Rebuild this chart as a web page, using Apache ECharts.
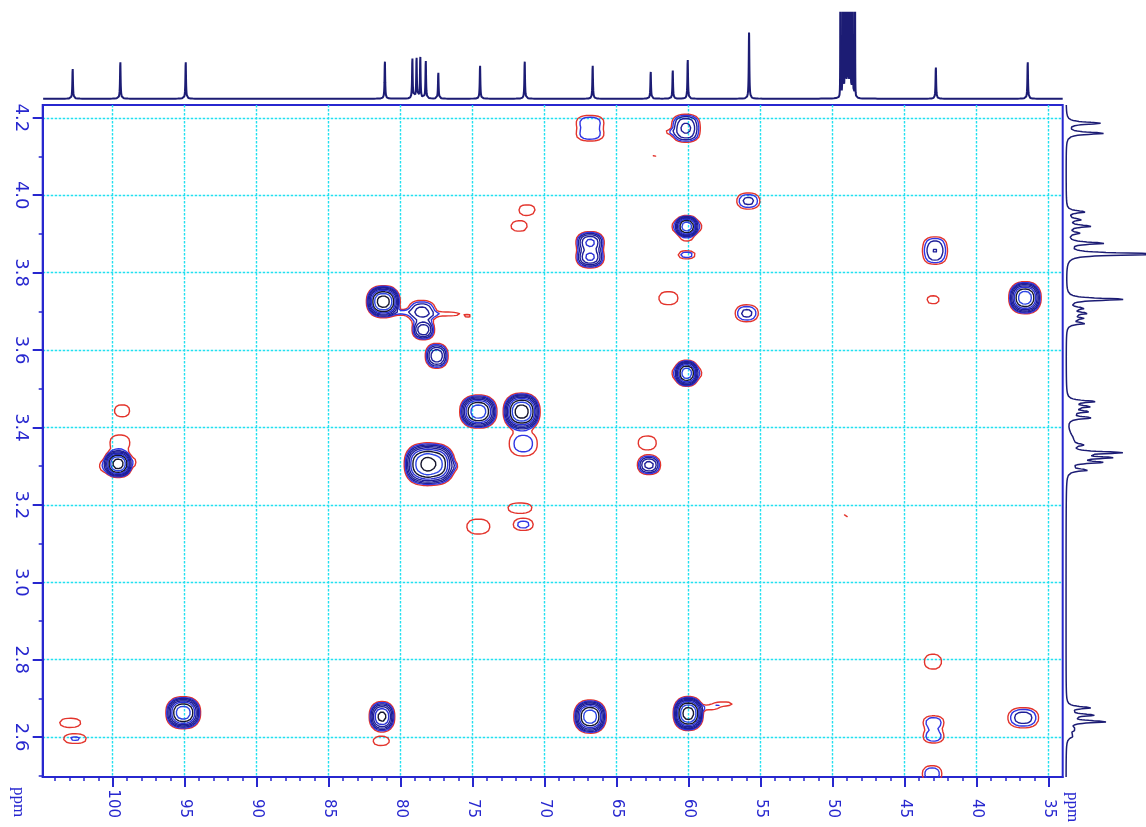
<!DOCTYPE html>
<html lang="en">
<head>
<meta charset="utf-8">
<title>HSQC</title>
<script src="https://cdn.jsdelivr.net/npm/echarts@6.0.0/dist/echarts.min.js"></script>
<style>
  html, body { margin: 0; padding: 0; background: #ffffff; }
  #chart { width: 1146px; height: 827px; }
</style>
</head>
<body>
<div id="chart"></div>
<script>
// ---------- axis extents and ticks (ppm) ----------
const carbonRange = [34.03, 104.86];
const protonRange = [2.497, 4.233];
const carbonTicks = [35, 40, 45, 50, 55, 60, 65, 70, 75, 80, 85, 90, 95, 100];
const protonTicks = [2.6, 2.8, 3.0, 3.2, 3.4, 3.6, 3.8, 4.0, 4.2];
const carbonMinorStep = 1;
const protonMinorStep = 0.1;

// ---------- 13C projection (top): shift / height in px ----------
const c13Shift  = [102.78, 99.47, 94.93, 81.10, 79.19, 78.90, 78.64, 78.26, 77.39, 74.49, 71.39, 66.67, 62.64, 61.11, 60.07, 55.81, 42.84, 36.46];
const c13Height = [30.8, 37.8, 37.8, 38.5, 41.2, 41.8, 42.8, 38.8, 26.8, 34.2, 38.5, 34.2, 27.8, 29.2, 40.2, 66.2, 32.5, 37.8];
const solventShift  = [48.45, 48.62, 48.79, 48.96, 49.13, 49.30, 49.47];
const solventHeight = [150, 450, 900, 1050, 900, 450, 150];

// ---------- 1H projection (right): shift / height in px / half width ----------
const h1Shift  = [4.186, 4.160, 3.957, 3.937, 3.920, 3.902, 3.876, 3.848, 3.731, 3.708, 3.695, 3.682, 3.669, 3.467, 3.454, 3.441, 3.425, 3.370, 3.355, 3.335, 3.322, 3.310, 3.290, 2.676, 2.657, 2.640, 2.620, 2.603];
const h1Height = [34, 38, 19, 14, 24, 12, 37, 95, 57, 17, 20, 15, 18, 27, 22, 20, 24, 6, 12, 52, 40, 32, 21, 24, 27, 39, 8, 6];
const h1Width  = [0.0035, 0.0035, 0.0035, 0.0035, 0.0035, 0.0035, 0.0035, 0.0035, 0.0035, 0.0035, 0.0035, 0.0035, 0.0035, 0.0035, 0.0035, 0.0035, 0.0035, 0.02, 0.0035, 0.0035, 0.0035, 0.0035, 0.0035, 0.0035, 0.0035, 0.0035, 0.006, 0.006];

// ---------- cross peaks: 13C ppm, 1H ppm, intensity, widths (ppm) ----------
const crossC = [66.85, 66.85, 60.2, 60.2, 61.3, 62.34, 55.86, 71.23, 71.78, 60.14, 61.05, 59.2, 60.14, 60.14, 66.85, 66.85, 42.9, 42.9,
                61.41, 43.03, 81.21, 79.9, 78.54, 78.43, 76.8, 75.3, 36.65, 55.97, 77.5, 60.14, 61.05, 59.2,
                99.35, 74.61, 71.60, 99.5, 71.49, 62.88, 99.63, 100.7, 98.5, 78.55, 77.7, 76.3, 62.76,
                71.72, 71.49, 74.61, 49.08, 43.04,
                102.95, 102.62, 95.1, 81.3, 81.35, 66.85, 60.03, 58.6, 57.6, 43.0, 43.0, 36.77, 43.1];
const crossH = [4.189, 4.157, 4.186, 4.160, 4.163, 4.103, 3.985, 3.962, 3.920, 3.919, 3.919, 3.919, 3.885, 3.846, 3.878, 3.840, 3.871, 3.843,
                3.734, 3.730, 3.725, 3.697, 3.699, 3.652, 3.693, 3.688, 3.735, 3.695, 3.585, 3.540, 3.540, 3.540,
                3.443, 3.441, 3.441, 3.360, 3.358, 3.360, 3.306, 3.300, 3.310, 3.305, 3.305, 3.300, 3.303,
                3.192, 3.149, 3.144, 3.172, 2.795,
                2.637, 2.596, 2.663, 2.653, 2.590, 2.653, 2.661, 2.676, 2.686, 2.638, 2.602, 2.650, 2.505];
const crossAmp = [2.4, 2.4, 6, 6, 1.2, 1.1, 3, 1.5, 1.5, 40, 1.1, 1.1, 1.1, 2.2, 12, 12, 3.2, 3.2,
                  1.5, 1.5, 60, 1.8, 5, 10, 1.4, 1.15, 40, 3, 10, 40, 1.1, 1.1,
                  1.5, 40, 60, 1.5, 2.1, 1.5, 60, 1.3, 1.2, 30, 40, 1.3, 8,
                  1.5, 1.9, 1.5, 1.1, 1.5,
                  1.5, 1.7, 40, 20, 1.5, 40, 60, 1.5, 1.5, 2.4, 2.4, 3.5, 2.5];
const crossWidthC = [1.0, 1.0, 0.75, 0.75, 0.5, 0.35, 0.77, 0.81, 0.81, 0.49, 0.2, 0.2, 0.7, 0.65, 0.67, 0.67, 0.75, 0.75,
                     0.96, 0.6, 0.65, 0.7, 0.8, 0.55, 1.4, 0.35, 0.65, 0.77, 0.56, 0.49, 0.2, 0.2,
                     0.76, 0.75, 0.71, 1.0, 1.1, 0.91, 0.55, 0.35, 0.2, 0.72, 0.85, 0.3, 0.59,
                     1.21, 0.83, 1.16, 0.35, 0.86,
                     1.06, 1.02, 0.7, 0.56, 0.81, 0.65, 0.58, 0.9, 0.9, 0.76, 0.76, 0.97, 0.7];
const crossWidthH = [0.018, 0.018, 0.018, 0.018, 0.007, 0.008, 0.020, 0.019, 0.019, 0.0165, 0.016, 0.016, 0.008, 0.0114, 0.019, 0.019, 0.02, 0.02,
                     0.0245, 0.015, 0.023, 0.008, 0.024, 0.018, 0.008, 0.004, 0.024, 0.021, 0.0227, 0.0195, 0.016, 0.016,
                     0.0225, 0.0248, 0.0265, 0.03, 0.036, 0.026, 0.0195, 0.018, 0.015, 0.031, 0.031, 0.012, 0.018,
                     0.0189, 0.018, 0.028, 0.008, 0.028,
                     0.017, 0.016, 0.024, 0.0245, 0.017, 0.0248, 0.0244, 0.008, 0.007, 0.018, 0.018, 0.0237, 0.022];

// ---------- contour levels ----------
const levelRatio = 1.6;
const levelColors = ['#e3342c', '#3036e4', '#1f1f98', '#1f1f98', '#1f1f98', '#2a32d6', '#16162e', '#2d46e4', '#16162e', '#2d46e4'];

// ---------- styling ----------
const AXIS_BLUE = '#2727cf';
const GRID_CYAN = '#22e0f0';
const TRACE_NAVY = '#1c1c74';

// ---------- 2D intensity surface on a regular ppm grid ----------
const SHAPE_P = 2.4;
const gridC0 = 34.0, gridDC = 0.1, gridNX = 711;
const gridH0 = 2.49, gridDH = 0.004, gridNY = 439;

function buildSurface() {
  const f = new Float32Array(gridNX * gridNY);
  for (let k = 0; k < crossC.length; k++) {
    const c = crossC[k], h = crossH[k], A = crossAmp[k], wc = crossWidthC[k], wh = crossWidthH[k];
    const i0 = Math.max(0, Math.floor((c - 4.5 * wc - gridC0) / gridDC));
    const i1 = Math.min(gridNX - 1, Math.ceil((c + 4.5 * wc - gridC0) / gridDC));
    const j0 = Math.max(0, Math.floor((h - 4.5 * wh - gridH0) / gridDH));
    const j1 = Math.min(gridNY - 1, Math.ceil((h + 4.5 * wh - gridH0) / gridDH));
    const pu = [];
    for (let i = i0; i <= i1; i++) pu.push(Math.pow(Math.abs(gridC0 + i * gridDC - c) / wc, SHAPE_P));
    for (let j = j0; j <= j1; j++) {
      const pv = Math.pow(Math.abs(gridH0 + j * gridDH - h) / wh, SHAPE_P);
      if (pv > 40) continue;
      for (let i = i0; i <= i1; i++) {
        const e = pu[i - i0] + pv;
        if (e < 40) f[j * gridNX + i] += A * Math.exp(-e);
      }
    }
  }
  return f;
}

// marching squares with segment chaining -> polylines in ppm
function contourLines(f, level) {
  const pos = new Map(), adj = new Map();
  const hId = (i, j) => (j * gridNX + i) * 2;
  const vId = (i, j) => (j * gridNX + i) * 2 + 1;
  function node(id, x, y) {
    if (!pos.has(id)) { pos.set(id, [x, y]); adj.set(id, []); }
    return id;
  }
  function join(p, q) { adj.get(p).push(q); adj.get(q).push(p); }
  for (let j = 0; j < gridNY - 1; j++) {
    for (let i = 0; i < gridNX - 1; i++) {
      const a = f[j * gridNX + i], b = f[j * gridNX + i + 1];
      const c = f[(j + 1) * gridNX + i + 1], d = f[(j + 1) * gridNX + i];
      const fa = a >= level, fb = b >= level, fc = c >= level, fd = d >= level;
      if (fa === fb && fb === fc && fc === fd) continue;
      const e = [];
      if (fa !== fb) e[0] = node(hId(i, j), i + (level - a) / (b - a), j);
      if (fb !== fc) e[1] = node(vId(i + 1, j), i + 1, j + (level - b) / (c - b));
      if (fd !== fc) e[2] = node(hId(i, j + 1), i + (level - d) / (c - d), j + 1);
      if (fa !== fd) e[3] = node(vId(i, j), i, j + (level - a) / (d - a));
      const present = [0, 1, 2, 3].filter(k => e[k] !== undefined);
      if (present.length === 2) {
        join(e[present[0]], e[present[1]]);
      } else {
        const centreIn = (a + b + c + d) / 4 >= level;
        if (fa === centreIn) { join(e[0], e[1]); join(e[2], e[3]); }
        else { join(e[3], e[0]); join(e[1], e[2]); }
      }
    }
  }
  const visited = new Set();
  const lines = [];
  function walk(start) {
    const line = [start];
    visited.add(start);
    let cur = start;
    for (;;) {
      const nb = adj.get(cur);
      let next = -1;
      for (const n of nb) if (!visited.has(n)) { next = n; break; }
      if (next < 0) {
        if (line.length > 2 && nb.indexOf(start) >= 0) line.push(start);
        break;
      }
      visited.add(next);
      line.push(next);
      cur = next;
    }
    return line;
  }
  for (const [id, nb] of adj) if (nb.length === 1 && !visited.has(id)) lines.push(walk(id));
  for (const id of adj.keys()) if (!visited.has(id)) lines.push(walk(id));
  const data = [];
  for (const line of lines) {
    for (const id of line) {
      const p = pos.get(id);
      data.push([gridC0 + p[0] * gridDC, gridH0 + p[1] * gridDH]);
    }
    data.push(['-', '-']);
  }
  return data;
}

// ---------- 1D traces ----------
function carbonTrace() {
  const out = [];
  for (let x = carbonRange[0]; x <= carbonRange[1]; x += 0.005) {
    let y = 0;
    for (let k = 0; k < c13Shift.length; k++) {
      const u = (x - c13Shift[k]) / 0.025;
      y += c13Height[k] / (1 + u * u);
    }
    for (let k = 0; k < solventShift.length; k++) {
      const u = (x - solventShift[k]) / 0.008;
      y += solventHeight[k] / (1 + u * u);
    }
    out.push([x, y]);
  }
  return out;
}
function protonTrace() {
  const out = [];
  for (let y = protonRange[0]; y <= protonRange[1]; y += 0.0008) {
    let v = 0;
    for (let k = 0; k < h1Shift.length; k++) {
      const u = (y - h1Shift[k]) / h1Width[k];
      v += h1Height[k] / (1 + u * u);
    }
    out.push([v, y]);
  }
  return out;
}

function minorTicks(lo, hi, step) {
  const t = [];
  for (let v = Math.ceil(lo / step) * step; v <= hi + 1e-9; v += step) t.push(Math.round(v / step) * step);
  return t;
}

// ---------- chart ----------
const surface = buildSurface();
const contourSeries = levelColors.map((color, k) => ({
  type: 'line',
  xAxisIndex: 0, yAxisIndex: 0,
  data: contourLines(surface, Math.pow(levelRatio, k)),
  symbol: 'none', showSymbol: false,
  connectNulls: false,
  lineStyle: { color: color, width: 1.4, cap: 'round', join: 'round' },
  silent: true, animation: false, z: 3 + k * 0.01
}));

const chart = echarts.init(document.getElementById('chart'), null, { renderer: 'canvas' });
chart.setOption({
  animation: false,
  backgroundColor: '#ffffff',
  grid: [
    { left: 42.7, right: 83.3, top: 105, bottom: 50, show: true, borderColor: AXIS_BLUE, borderWidth: 2, backgroundColor: 'transparent' },
    { left: 42.7, right: 83.3, top: 12.7, height: 88 },
    { left: 1064, right: 0, top: 105, bottom: 50 }
  ],
  xAxis: [
    {
      type: 'value', gridIndex: 0, position: 'bottom', inverse: true,
      min: carbonRange[0], max: carbonRange[1], splitNumber: 14,
      axisLine: { show: true, onZero: false, lineStyle: { color: AXIS_BLUE, width: 2 } },
      axisTick: { show: true, customValues: carbonTicks, length: 10, lineStyle: { color: AXIS_BLUE, width: 2 } },
      axisLabel: { show: true, customValues: carbonTicks, rotate: -90, align: 'right', verticalAlign: 'middle', margin: 41,
                   color: AXIS_BLUE, fontFamily: 'DejaVu Sans', fontSize: 15, formatter: v => String(v) },
      splitLine: { show: true, lineStyle: { color: GRID_CYAN, type: [2.5, 1.5], width: 1.4 } }
    },
    {
      type: 'value', gridIndex: 0, position: 'bottom', inverse: true,
      min: carbonRange[0], max: carbonRange[1],
      axisLine: { show: false },
      axisTick: { show: true, customValues: minorTicks(35, 104, carbonMinorStep), length: 4, lineStyle: { color: AXIS_BLUE, width: 1.5 } },
      axisLabel: { show: false }, splitLine: { show: false }
    },
    { type: 'value', gridIndex: 1, inverse: true, min: carbonRange[0], max: carbonRange[1], show: false },
    { type: 'value', gridIndex: 2, min: -2, max: 80, show: false }
  ],
  yAxis: [
    {
      type: 'value', gridIndex: 0, position: 'left',
      min: protonRange[0], max: protonRange[1], splitNumber: 8,
      axisLine: { show: true, onZero: false, lineStyle: { color: AXIS_BLUE, width: 2 } },
      axisTick: { show: true, customValues: protonTicks, length: 10, lineStyle: { color: AXIS_BLUE, width: 2 } },
      axisLabel: { show: true, customValues: protonTicks, rotate: -90, align: 'center', verticalAlign: 'middle', margin: 22,
                   color: AXIS_BLUE, fontFamily: 'DejaVu Sans', fontSize: 18, formatter: v => v.toFixed(1) },
      splitLine: { show: true, lineStyle: { color: GRID_CYAN, type: [2.5, 1.5], width: 1.4 } }
    },
    {
      type: 'value', gridIndex: 0, position: 'left',
      min: protonRange[0], max: protonRange[1],
      axisLine: { show: false },
      axisTick: { show: true, customValues: minorTicks(2.5, 4.2, protonMinorStep), length: 4, lineStyle: { color: AXIS_BLUE, width: 1.5 } },
      axisLabel: { show: false }, splitLine: { show: false }
    },
    { type: 'value', gridIndex: 1, min: -2, max: 86, show: false },
    { type: 'value', gridIndex: 2, min: protonRange[0], max: protonRange[1], show: false }
  ],
  graphic: [
    { type: 'text', x: 18.5, y: 802, rotation: -Math.PI / 2,
      style: { text: 'ppm', fill: AXIS_BLUE, fontFamily: 'Liberation Serif', fontSize: 17, align: 'center', verticalAlign: 'middle' } },
    { type: 'text', x: 1072, y: 807, rotation: -Math.PI / 2,
      style: { text: 'ppm', fill: AXIS_BLUE, fontFamily: 'Liberation Serif', fontSize: 17, align: 'center', verticalAlign: 'middle' } }
  ],
  series: contourSeries.concat([
    {
      type: 'line', xAxisIndex: 2, yAxisIndex: 2, data: carbonTrace(),
      symbol: 'none', showSymbol: false, clip: true,
      lineStyle: { color: TRACE_NAVY, width: 2 }, silent: true, animation: false
    },
    {
      type: 'line', xAxisIndex: 3, yAxisIndex: 3, data: protonTrace(),
      symbol: 'none', showSymbol: false, clip: true,
      lineStyle: { color: TRACE_NAVY, width: 1.5 }, silent: true, animation: false
    }
  ])
});
</script>
</body>
</html>
